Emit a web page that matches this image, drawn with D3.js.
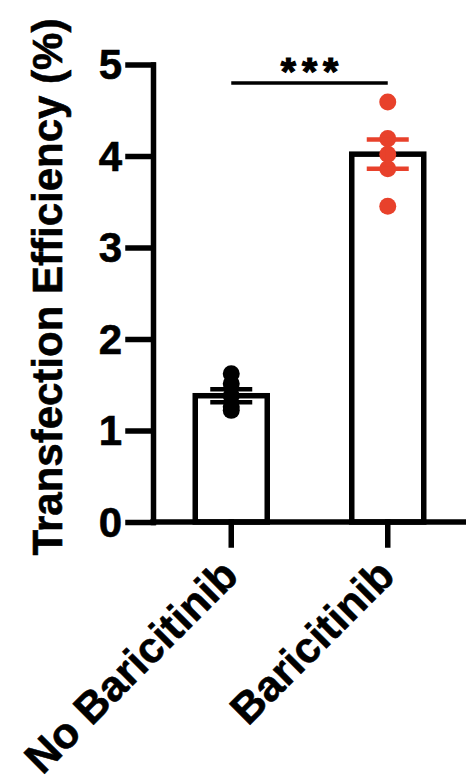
<!DOCTYPE html>
<html>
<head>
<meta charset="utf-8">
<script src="https://cdn.jsdelivr.net/npm/d3@7"></script>
<style>
  html, body { margin: 0; padding: 0; background: #fff; }
  text { font-family: "Liberation Sans", Arial, Helvetica, sans-serif; font-weight: bold;
         stroke: #000; stroke-width: 0.6px; }
</style>
</head>
<body>
<svg class="chart"></svg>
<script>
// values
var groups = ["No Baricitinib", "Baricitinib"];
var means = [1.38, 4.02];
var sems = [0.07, 0.16];
var noBariPoints = [1.62, 1.51, 1.38, 1.26, 1.22];
var bariPoints = [4.59, 4.19, 4.02, 3.86, 3.45];
var yTicks = [0, 1, 2, 3, 4, 5];
var colors = ["#000000", "#e8412b"];
var sigLabel = "***";
var yTitle = "Transfection Efficiency (%)";

var W = 466, H = 783;
var lw = 5.5;

var svg = d3.select(".chart")
  .attr("width", W)
  .attr("height", H);

var x = d3.scaleBand()
  .domain(groups)
  .range([153, 466])
  .paddingInner(0.54)
  .paddingOuter(0.27);

var y = d3.scaleLinear()
  .domain([0, 5])
  .range([522, 64.5]);

// bars
svg.selectAll(".bar")
  .data(groups)
  .enter().append("rect")
    .attr("class", "bar")
    .attr("x", function(d) { return x(d); })
    .attr("width", x.bandwidth())
    .attr("y", function(d, i) { return y(means[i]); })
    .attr("height", function(d, i) { return y(0) - y(means[i]); })
    .attr("fill", "#fff")
    .attr("stroke", "#000")
    .attr("stroke-width", lw);

// points
var pts = [noBariPoints, bariPoints];
groups.forEach(function(g, i) {
  var cx = x(g) + x.bandwidth() / 2;
  svg.selectAll(".pt" + i)
    .data(pts[i])
    .enter().append("circle")
      .attr("cx", cx)
      .attr("cy", function(d) { return y(d); })
      .attr("r", 8.5)
      .attr("fill", colors[i]);

  // error bar (mean +- sem)
  var eb = svg.append("g").attr("stroke", colors[i]).attr("stroke-width", 4.5);
  eb.append("line")
    .attr("x1", cx).attr("x2", cx)
    .attr("y1", y(means[i] - sems[i])).attr("y2", y(means[i] + sems[i]));
  [means[i] - sems[i], means[i] + sems[i]].forEach(function(v) {
    eb.append("line")
      .attr("x1", cx - 21).attr("x2", cx + 21)
      .attr("y1", y(v)).attr("y2", y(v));
  });
});

// y axis
var yAxis = svg.append("g")
  .attr("transform", "translate(153,0)")
  .call(d3.axisLeft(y).tickValues(yTicks).tickFormat(d3.format("d"))
    .tickSize(25).tickSizeOuter(0).tickPadding(6));

// x axis
var xAxis = svg.append("g")
  .attr("transform", "translate(0,522)")
  .call(d3.axisBottom(x).tickSize(23).tickSizeOuter(0));
xAxis.select(".domain").attr("d", "M153,0H470");

[yAxis, xAxis].forEach(function(a) {
  a.selectAll("path, line")
    .attr("stroke", "#000")
    .attr("stroke-width", lw)
    .attr("stroke-linecap", "square");
  a.selectAll("text")
    .attr("fill", "#000")
    .style("font-size", "42px");
});
yAxis.selectAll(".tick text").attr("dy", "0.34em");

xAxis.selectAll(".tick text")
  .attr("text-anchor", "end")
  .attr("x", 0)
  .attr("y", 0)
  .attr("dy", 0)
  .style("font-size", "43px")
  .attr("transform", "translate(9,56) rotate(-45)");

// y title
svg.append("text")
  .attr("transform", "translate(62,287) rotate(-90)")
  .attr("text-anchor", "middle")
  .style("font-size", "42px")
  .text(yTitle);

// significance
var x1 = x(groups[0]) + x.bandwidth() / 2;
var x2 = x(groups[1]) + x.bandwidth() / 2;
svg.append("line")
  .attr("x1", x1).attr("x2", x2)
  .attr("y1", 83).attr("y2", 83)
  .attr("stroke", "#000")
  .attr("stroke-width", 3.5);
svg.append("text")
  .attr("x", (x1 + x2) / 2 + 3)
  .attr("y", 85)
  .attr("text-anchor", "middle")
  .style("font-size", "39px")
  .style("letter-spacing", "6px")
  .style("stroke-width", "1.2px")
  .text(sigLabel);
</script>
</body>
</html>
